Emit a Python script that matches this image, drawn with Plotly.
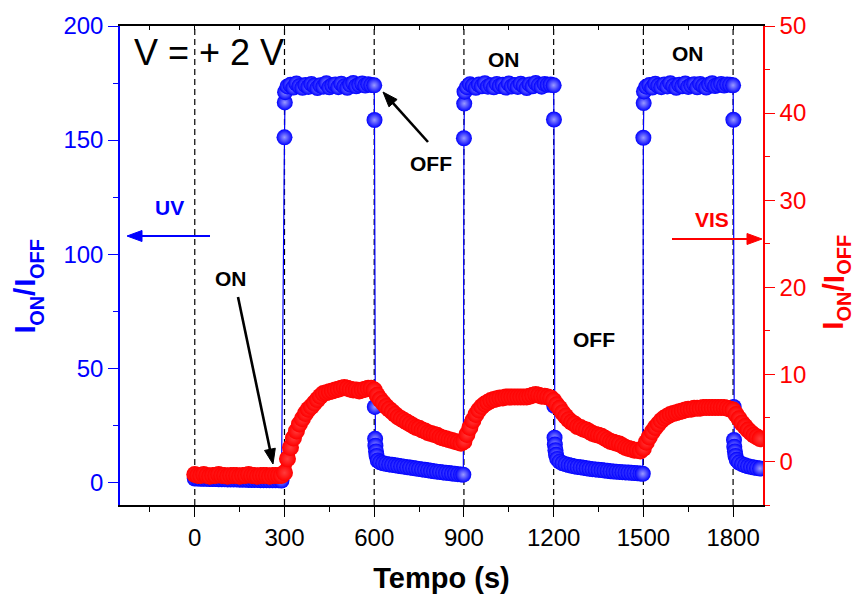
import math
import plotly.graph_objects as go

# ---------------- data ----------------
switch_times = [0, 300, 600, 900, 1200, 1500, 1800]

# Blue series (left axis): I_ON/I_OFF under UV
blue_t_off0 = list(range(0, 300, 10))
blue_v_off0 = [1.6, 1.6, 1.5, 1.5, 1.5, 1.4, 1.4, 1.4, 1.3, 1.3, 1.3, 1.2, 1.2, 1.2, 1.2,
               1.1, 1.1, 1.1, 1.0, 1.0, 1.0, 1.0, 0.9, 0.9, 0.9, 0.8, 0.8, 0.8, 0.8, 0.7]

blue_t_on1 = [300, 301, 302] + list(range(310, 600, 10)) + [600]
blue_v_on1 = [151.2, 166.5, 171.0,
              173.5, 174.2, 173.0, 174.8, 173.6, 172.9, 174.1, 173.3, 174.6, 173.8,
              172.8, 174.0, 173.4, 174.9, 173.1, 173.9, 174.4, 173.2, 174.7, 173.5,
              172.9, 174.3, 175.0, 173.6, 174.2, 174.8, 173.9, 174.5, 174.1,
              174.0]

blue_t_off1 = [601, 602, 603, 604, 606, 608, 612] + list(range(620, 900, 10)) + [898]
blue_v_off1 = [158.8, 33.0, 19.0, 16.0, 13.5, 11.5, 9.5,
               8.7, 8.3, 8.0, 7.8, 7.6, 7.4, 7.2, 7.0, 6.8, 6.6, 6.4, 6.2, 6.0, 5.8,
               5.6, 5.4, 5.2, 5.0, 4.8, 4.6, 4.5, 4.3, 4.1, 4.0, 3.8, 3.7, 3.5, 3.4,
               3.3]

blue_t_on2 = [900, 901, 902] + list(range(910, 1200, 10)) + [1200]
blue_v_on2 = [150.8, 166.0, 171.2,
              173.2, 174.5, 173.8, 172.9, 174.3, 173.6, 174.9, 173.4, 174.0, 173.1,
              174.6, 173.7, 174.2, 173.0, 174.8, 173.5, 174.1, 173.3, 174.7, 173.9,
              172.8, 174.4, 173.6, 175.0, 174.0, 173.4, 174.6, 174.2, 174.3,
              174.0]

blue_t_off2 = [1201, 1202, 1203, 1204, 1206, 1208, 1212] + list(range(1220, 1500, 10)) + [1498]
blue_v_off2 = [159.0, 33.5, 19.5, 16.5, 14.0, 12.0, 10.2,
               9.0, 8.3, 7.9, 7.5, 7.2, 6.9, 6.7, 6.5, 6.3, 6.1, 5.9, 5.7, 5.6, 5.4,
               5.3, 5.1, 5.0, 4.8, 4.7, 4.6, 4.5, 4.4, 4.3, 4.2, 4.1, 4.0, 3.9, 3.8,
               3.7]

blue_t_on3 = [1500, 1501, 1502] + list(range(1510, 1800, 10)) + [1800]
blue_v_on3 = [151.0, 166.2, 171.3,
              173.4, 174.1, 173.0, 174.7, 173.8, 173.2, 174.4, 173.5, 174.9, 173.7,
              172.9, 174.2, 173.6, 174.8, 173.3, 174.0, 174.5, 173.1, 174.6, 173.8,
              173.0, 174.3, 174.9, 173.7, 174.1, 174.6, 173.9, 174.4, 174.2,
              174.0]

blue_t_off3 = [1801, 1802, 1803, 1804, 1806, 1808, 1812] + list(range(1820, 1900, 10))
blue_v_off3 = [158.9, 33.0, 18.5, 15.5, 13.5, 11.5, 9.8,
               8.6, 7.9, 7.4, 7.0, 6.7, 6.4, 6.2, 6.0]

blue_t = (blue_t_off0 + blue_t_on1 + blue_t_off1 + blue_t_on2 + blue_t_off2
          + blue_t_on3 + blue_t_off3)
blue_v = (blue_v_off0 + blue_v_on1 + blue_v_off1 + blue_v_on2 + blue_v_off2
          + blue_v_on3 + blue_v_off3)

# Red series (right axis): I_ON/I_OFF under VIS
red_t = list(range(0, 1900, 10))
red_v = ([-1.5, -1.6, -1.6, -1.5, -1.6, -1.7, -1.6, -1.6, -1.5, -1.6, -1.6, -1.7, -1.6, -1.6, -1.6,
          -1.7, -1.6, -1.6, -1.5, -1.6, -1.6, -1.7, -1.6, -1.6, -1.6, -1.7, -1.6, -1.6, -1.6, -1.6]
         + [-1.3, 0.3, 1.6, 2.7, 3.5, 4.3, 4.9, 5.5, 6.0, 6.3, 6.7, 7.1, 7.5, 7.8, 7.9, 8.0,
            8.1, 8.2, 8.3, 8.4, 8.5, 8.4, 8.3, 8.2, 8.2, 8.1, 8.2, 8.3, 8.4, 8.4, 8.2]
         + [7.6, 7.1, 6.7, 6.3, 6.0, 5.7, 5.4, 5.1, 4.9, 4.7, 4.5, 4.3, 4.1, 3.9, 3.8, 3.6,
            3.5, 3.3, 3.2, 3.1, 3.0, 2.8, 2.7, 2.6, 2.5, 2.4, 2.3, 2.2, 2.1]
         + [2.3, 3.1, 3.9, 4.7, 5.4, 5.9, 6.3, 6.6, 6.8, 7.0, 7.1, 7.2, 7.3, 7.3, 7.4, 7.4,
            7.4, 7.4, 7.4, 7.4, 7.4, 7.4, 7.5, 7.6, 7.7, 7.6, 7.5, 7.5, 7.4, 7.3, 7.0]
         + [6.5, 6.1, 5.6, 5.2, 4.8, 4.5, 4.3, 4.0, 3.9, 3.7, 3.6, 3.4, 3.2, 3.1, 3.0, 2.9,
            2.7, 2.5, 2.3, 2.2, 2.1, 2.0, 1.8, 1.6, 1.5, 1.4, 1.3, 1.3, 1.2]
         + [1.5, 2.2, 2.8, 3.4, 3.9, 4.3, 4.7, 5.0, 5.2, 5.4, 5.5, 5.6, 5.7, 5.8, 5.9, 6.0,
            6.0, 6.1, 6.1, 6.1, 6.2, 6.2, 6.2, 6.2, 6.2, 6.2, 6.2, 6.2, 6.1, 6.0, 5.9]
         + [5.4, 4.9, 4.4, 4.0, 3.6, 3.3, 3.0, 2.8, 2.6])

x_tick_vals = [0, 300, 600, 900, 1200, 1500, 1800]
x_tick_text = ["0", "300", "600", "900", "1200", "1500", "1800"]

# ---------------- figure ----------------
FONT = "Liberation Sans, Arial, sans-serif"
L, R, T, B = 120, 763, 26, 505
W, H = 856, 600


def px(xp):
    return (xp - L) / (R - L)


def py(yp):
    return (B - yp) / (B - T)


fig = go.Figure()

fig.add_trace(go.Scatter(
    x=blue_t, y=blue_v, mode="lines+markers", yaxis="y", xaxis="x",
    line=dict(color="#0000ff", width=1.2),
    marker=dict(size=16, color="#0000ff", line=dict(width=0),
                gradient=dict(type="radial", color="#9a9aff")),
    showlegend=False, hoverinfo="x+y"))

fig.add_trace(go.Scatter(
    x=red_t, y=red_v, mode="lines+markers", yaxis="y2", xaxis="x",
    line=dict(color="#ff0000", width=11),
    marker=dict(size=17, color="#ff0000", line=dict(width=0),
                gradient=dict(type="radial", color="#ff3c3c")),
    showlegend=False, hoverinfo="x+y"))

# dummy trace for the top tick axis
fig.add_trace(go.Scatter(x=[None], y=[None], xaxis="x2", yaxis="y",
                         showlegend=False, hoverinfo="skip"))

shapes = []
for st in switch_times:
    shapes.append(dict(type="line", xref="x", yref="paper", x0=st, x1=st, y0=0, y1=1,
                       line=dict(color="black", width=1.2, dash="6px,4px"), layer="below"))


def arrow(x_head, y_head, x_tail, y_tail, color, width=2.2, head_len=15, head_half=5.5):
    dx, dy = x_head - x_tail, y_head - y_tail
    n = math.hypot(dx, dy)
    ux, uy = dx / n, dy / n
    bx, by = x_head - ux * head_len, y_head - uy * head_len
    shapes.append(dict(type="line", xref="paper", yref="paper",
                       x0=px(x_tail), y0=py(y_tail), x1=px(bx + ux * 2), y1=py(by + uy * 2),
                       line=dict(color=color, width=width)))
    p1 = (bx - uy * head_half, by + ux * head_half)
    p2 = (bx + uy * head_half, by - ux * head_half)
    path = (f"M {px(x_head)},{py(y_head)} L {px(p1[0])},{py(p1[1])} "
            f"L {px(p2[0])},{py(p2[1])} Z")
    shapes.append(dict(type="path", xref="paper", yref="paper", path=path,
                       fillcolor=color, line=dict(color=color, width=1)))


arrow(127, 236, 210, 236, "#0000ff", 2.0)
arrow(762, 239, 672, 239, "#ff0000", 2.0)
arrow(273, 464, 238, 297, "black", 2.6)
arrow(383, 92, 428, 142, "black", 2.6)

ann = []


def label(text, xp, yp, size, color="black", bold=True, angle=0):
    t = f"<b>{text}</b>" if bold else text
    ann.append(dict(text=t, xref="paper", yref="paper", x=px(xp), y=py(yp),
                    xanchor="center", yanchor="middle", showarrow=False,
                    textangle=angle, font=dict(family=FONT, size=size, color=color)))


label("V = + 2 V", 209, 52, 36, bold=False)
label("UV", 169, 208, 21, color="#0000ff")
label("VIS", 712, 219, 21, color="#ff0000")
label("ON", 231, 278, 21)
label("OFF", 431, 163, 21)
label("ON", 504, 60, 21)
label("ON", 688, 54, 21)
label("OFF", 594, 339, 21)


def rotated_title(color, y_bottom, x_main, x_sub, main=30, sub=20):
    # I_ON / I_OFF written bottom-to-top from separate pieces
    adv_i = 0.278 * main
    w_on = 1.5 * sub
    w_off = 2.0 * sub
    y = y_bottom
    label("I", x_main, y - adv_i / 2, main, color, angle=-90)
    y -= adv_i
    label("ON", x_sub, y - w_on / 2, sub, color, angle=-90)
    y -= w_on
    label("/", x_main, y - adv_i / 2, main, color, angle=-90)
    y -= adv_i
    label("I", x_main, y - adv_i / 2, main, color, angle=-90)
    y -= adv_i
    label("OFF", x_sub, y - w_off / 2, sub, color, angle=-90)


rotated_title("#0000ff", 334, 24.6, 37.1)
rotated_title("#ff0000", 330, 833.0, 843.8)

fig.update_layout(
    width=W, height=H,
    margin=dict(l=L, r=W - R, t=T, b=H - B, pad=0, autoexpand=False),
    paper_bgcolor="white", plot_bgcolor="white",
    font=dict(family=FONT, size=24, color="black"),
    shapes=shapes, annotations=ann,
    xaxis=dict(range=[-250, 1900], tickvals=x_tick_vals, ticktext=x_tick_text,
               ticks="outside", ticklen=10, tickwidth=1.3, tickcolor="black",
               showline=True, linecolor="black", linewidth=1.5, mirror=False,
               showgrid=False, zeroline=False, automargin=False,
               title=dict(text="<b>Tempo (s)</b>", standoff=18,
                          font=dict(family=FONT, size=29, color="black")),
               tickfont=dict(family=FONT, size=24, color="black"),
               minor=dict(dtick=150, tick0=0, ticks="outside", ticklen=5,
                          tickwidth=1.2, tickcolor="black", showgrid=False)),
    xaxis2=dict(range=[-250, 1900], overlaying="x", side="top", anchor="y",
                showticklabels=False, ticks="inside", ticklen=4, tickwidth=1.2,
                tickcolor="black", dtick=150, tick0=0, showline=True,
                linecolor="black", linewidth=1.5, showgrid=False, zeroline=False,
                automargin=False),
    yaxis=dict(range=[-10, 200], dtick=50, tick0=0, ticks="outside", ticklen=10,
               tickwidth=1.3, tickcolor="#0000ff", showline=True, linecolor="#0000ff",
               linewidth=1.5, showgrid=False, zeroline=False, automargin=False,
               tickfont=dict(family=FONT, size=24, color="#0000ff"),
               minor=dict(dtick=25, tick0=0, ticks="outside", ticklen=5, tickwidth=1.2,
                          tickcolor="#0000ff", showgrid=False)),
    yaxis2=dict(range=[-5, 50], dtick=10, tick0=0, overlaying="y", side="right",
                anchor="x", ticks="outside", ticklen=10, tickwidth=1.3,
                tickcolor="#ff0000", showline=True, linecolor="#ff0000", linewidth=1.5,
                showgrid=False, zeroline=False, automargin=False,
                tickfont=dict(family=FONT, size=24, color="#ff0000"),
                minor=dict(dtick=5, tick0=0, ticks="outside", ticklen=5, tickwidth=1.2,
                           tickcolor="#ff0000", showgrid=False)),
)

fig.write_html("out.html", config={"displayModeBar": False},
               post_script="document.body.style.margin='0';")
